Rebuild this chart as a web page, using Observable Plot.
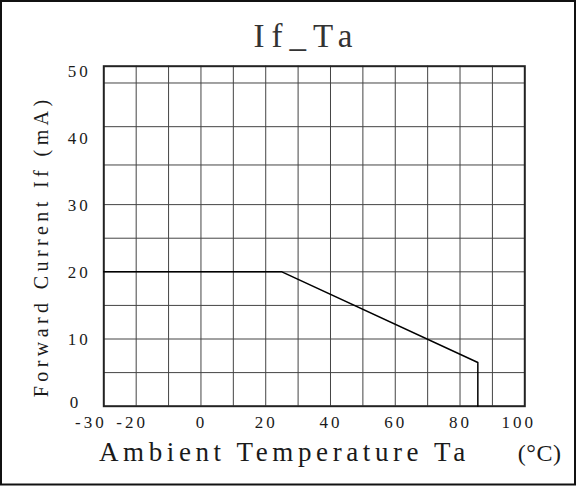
<!DOCTYPE html>
<html><head><meta charset="utf-8">
<script src="https://cdn.jsdelivr.net/npm/d3@7"></script>
<script src="https://cdn.jsdelivr.net/npm/@observablehq/plot@0.6"></script>
<style>body{margin:0;background:#fff} svg{display:block}</style>
</head><body><div id="chart"></div>
<script>
// Data
const ambientTemp = [-30, 25, 85.5, 85.5];
const forwardCurrent = [20, 20, 6.5, 0];
const xTickLabels = [-30, -20, 0, 20, 40, 60, 80, 100];
const yTickLabels = [0, 10, 20, 30, 40, 50];
const xGridLines = [-20, -10, 0, 10, 20, 30, 40, 50, 60, 70, 80, 90];
const yGridLines = [5, 10, 15, 20, 25, 30, 35.9, 41.6, 48.1];
const titleText = "If_Ta";
const xTitle = "Ambient Temperature Ta";
const xUnit = "(°C)";
const yTitle = "Forward Current If (mA)";

const curve = ambientTemp.map((t, i) => ({t, c: forwardCurrent[i]}));
const font = "'Liberation Serif', 'Times New Roman', serif";
const ink = "#1a1a1a";

const chart = Plot.plot({
  width: 576, height: 486,
  marginLeft: 103.3, marginRight: 51.7, marginTop: 65.7, marginBottom: 80.3,
  style: {fontFamily: font, background: "#fff", overflow: "visible"},
  x: {domain: [-30, 100], axis: null},
  y: {domain: [0, 50.6], axis: null},
  marks: [
    Plot.ruleX(xGridLines, {stroke: "#444", strokeWidth: 1}),
    Plot.ruleY(yGridLines, {stroke: "#444", strokeWidth: 1}),
    Plot.frame({stroke: "#222", strokeWidth: 2}),
    Plot.line(curve, {x: "t", y: "c", stroke: "#000", strokeWidth: 1.5}),
    Plot.text(yTickLabels, {filter: d => d > 0, y: d => d, frameAnchor: "left", text: d => String(d), textAnchor: "start",
      dx: -36, dy: 1, lineAnchor: "middle", fontSize: 17, fill: ink}),
    Plot.text(yTickLabels, {filter: d => d === 0, y: d => d, frameAnchor: "left", text: d => String(d), textAnchor: "start",
      dx: -34, dy: -4, lineAnchor: "middle", fontSize: 17, fill: ink}),
    Plot.text(xTickLabels, {filter: d => d > -20 && d < 100, x: d => d, frameAnchor: "bottom", text: d => String(d),
      textAnchor: "middle", dx: 0.5, dy: 21.5, lineAnchor: "bottom", fontSize: 17, fill: ink}),
    Plot.text(xTickLabels, {filter: d => d === -30, x: d => d, frameAnchor: "bottom", text: d => String(d),
      textAnchor: "middle", dx: -13, dy: 21.5, lineAnchor: "bottom", fontSize: 17, fill: ink}),
    Plot.text(xTickLabels, {filter: d => d === -20, x: d => d, frameAnchor: "bottom", text: d => String(d),
      textAnchor: "middle", dx: -4, dy: 21.5, lineAnchor: "bottom", fontSize: 17, fill: ink}),
    Plot.text(xTickLabels, {filter: d => d === 100, x: d => d, frameAnchor: "bottom", text: d => String(d),
      textAnchor: "middle", dx: -6, dy: 21.5, lineAnchor: "bottom", fontSize: 17, fill: ink}),
    Plot.text([titleText], {frameAnchor: "top-left", text: d => d, textAnchor: "start",
      dx: 149.7, dy: -18.7, lineAnchor: "bottom", fontSize: 33, fill: "#333"}),
    Plot.text([yTitle], {frameAnchor: "bottom-left", text: d => d, textAnchor: "start", rotate: -90,
      dx: -56, dy: -9, lineAnchor: "bottom", fontSize: 20, fill: ink}),
    Plot.text([xTitle], {frameAnchor: "bottom-left", text: d => d, textAnchor: "start",
      dx: -4.8, dy: 55, lineAnchor: "bottom", fontSize: 27, fill: ink}),
    Plot.text([xUnit], {frameAnchor: "bottom-left", text: d => d, textAnchor: "start",
      dx: 414, dy: 55, lineAnchor: "bottom", fontSize: 24, fill: ink})
  ]
});

const svg = d3.select(chart);
const spacing = new Map([[titleText, 7], [yTitle, 4.4], [xTitle, 4.6], [xUnit, 0.5]]);
svg.selectAll("text").each(function () {
  const t = this.textContent;
  const ls = spacing.has(t) ? spacing.get(t) : 3;
  this.setAttribute("letter-spacing", ls);
});
svg.append("rect").attr("x", 1).attr("y", 1).attr("width", 574).attr("height", 483.5)
  .attr("fill", "none").attr("stroke", "#111").attr("stroke-width", 2);

document.getElementById("chart").appendChild(chart);
</script>
</body></html>
